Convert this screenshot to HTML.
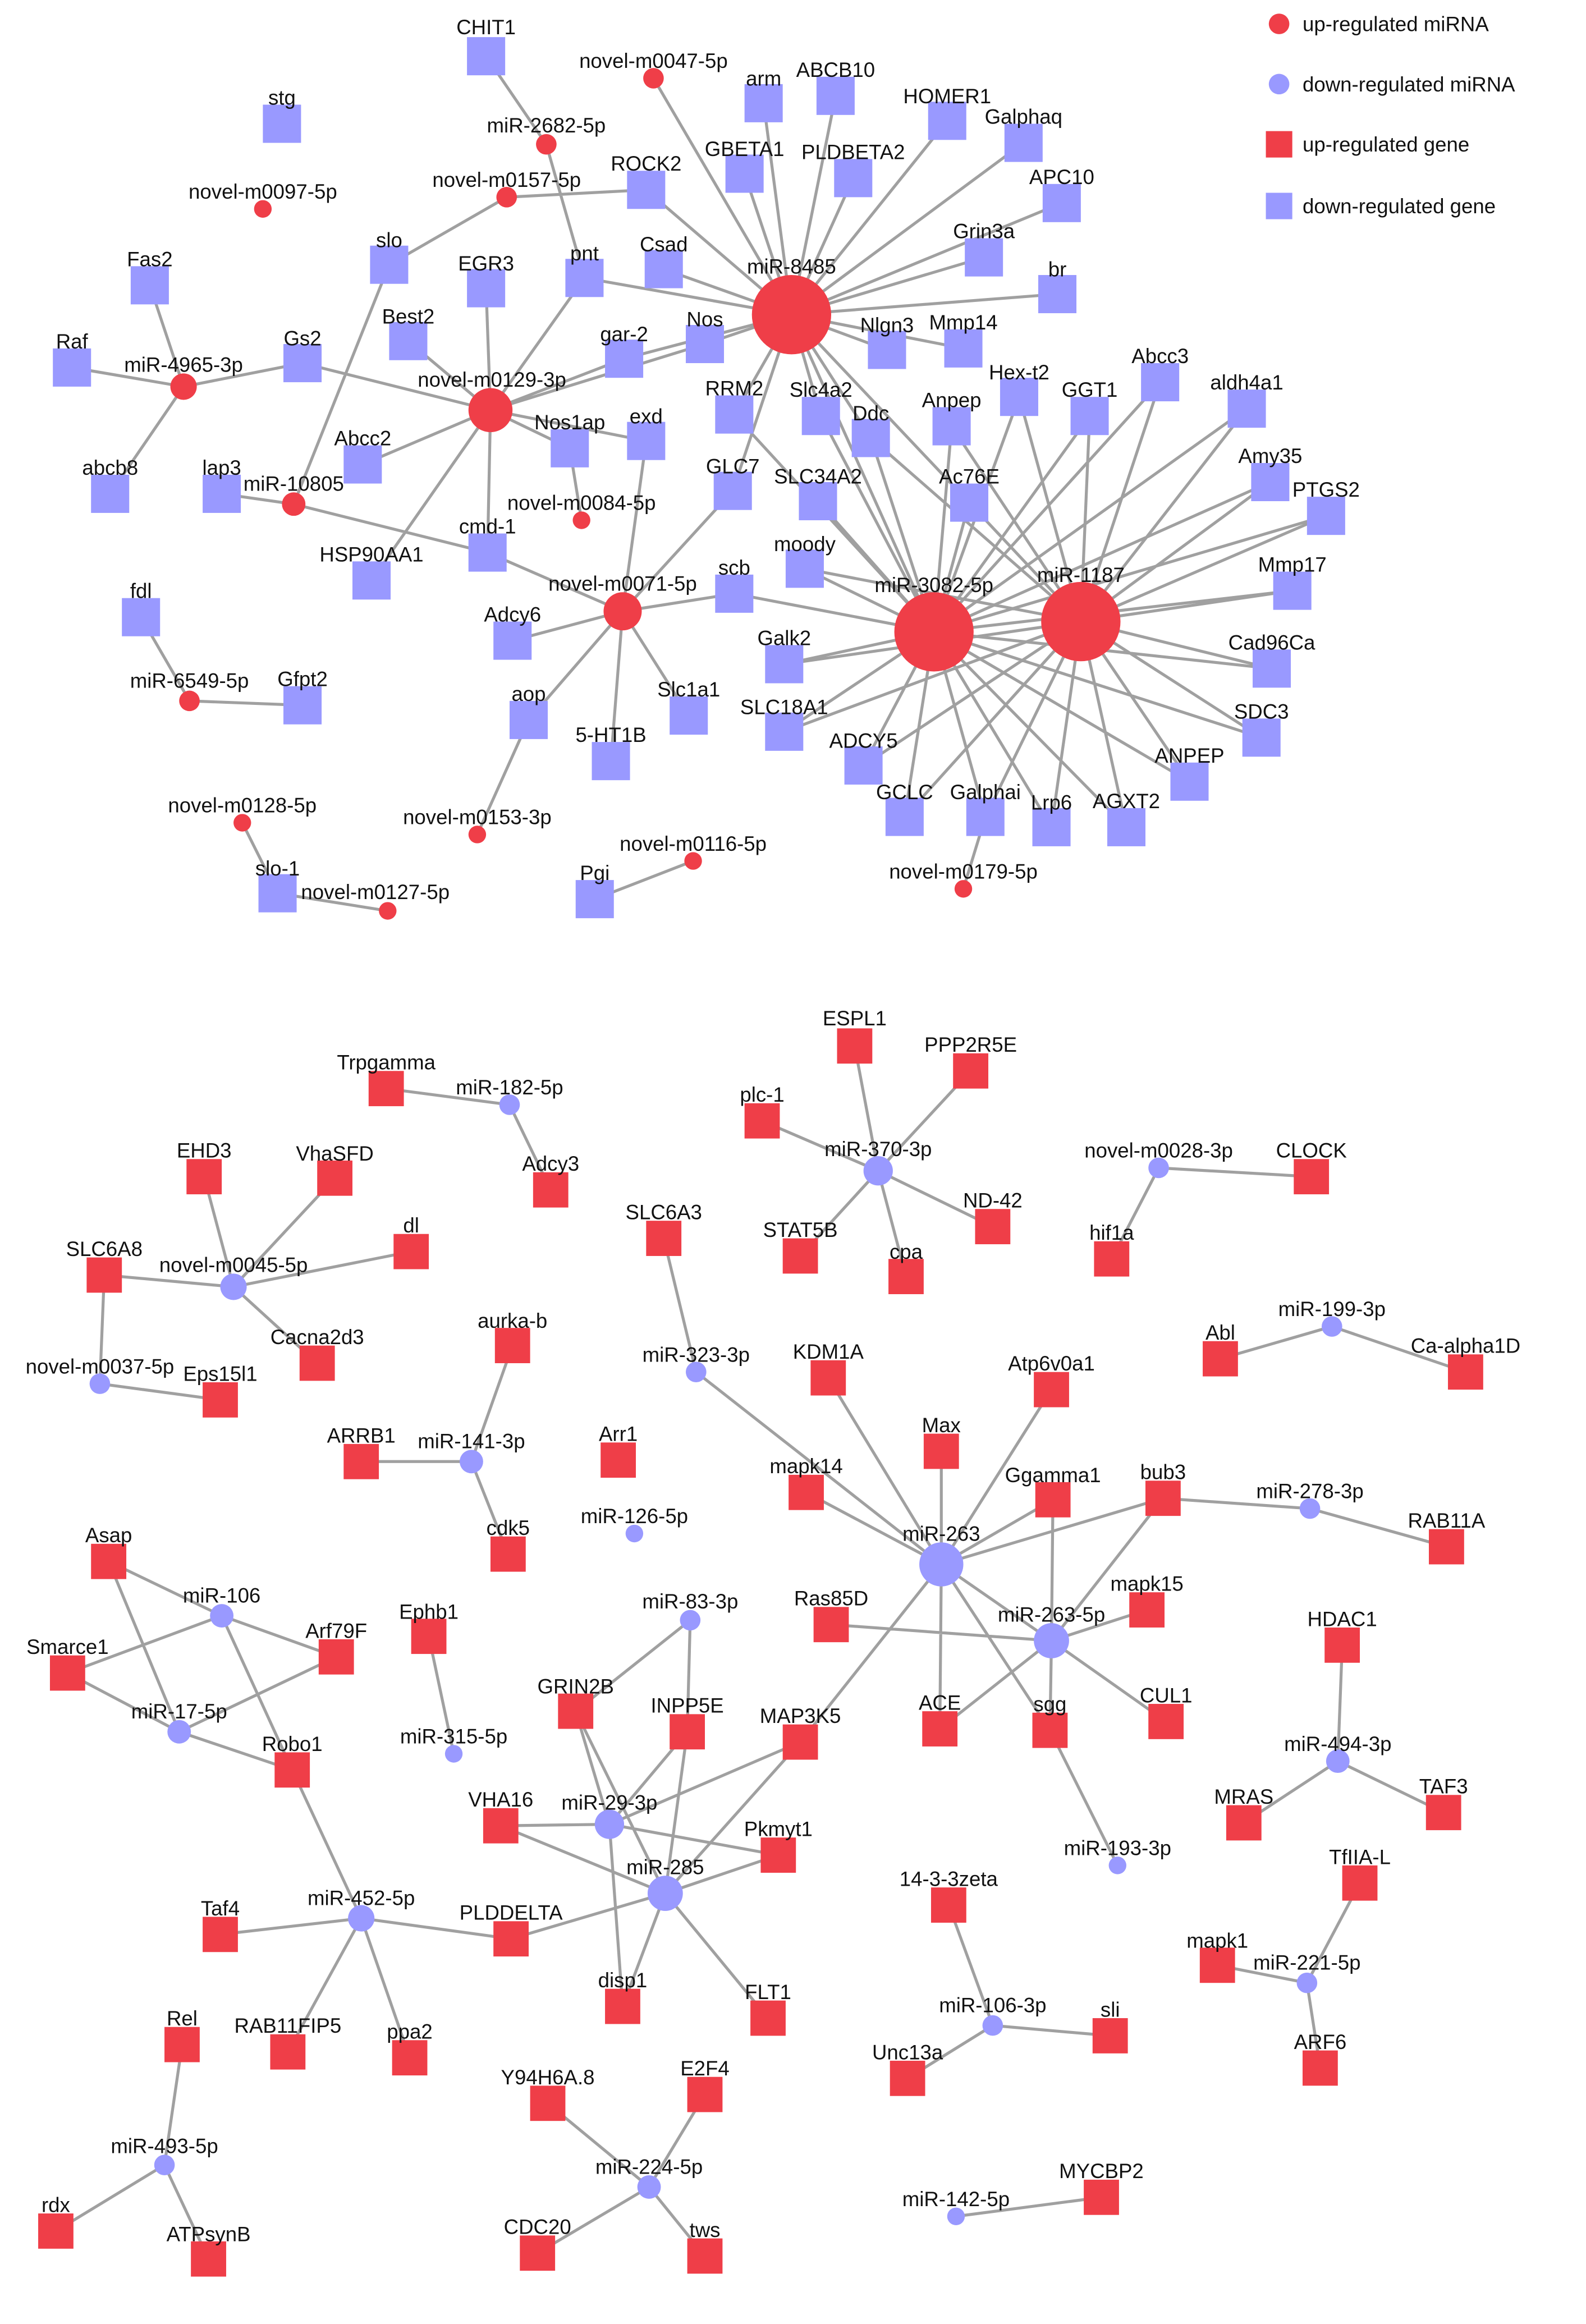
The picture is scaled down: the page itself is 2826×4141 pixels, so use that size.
<!DOCTYPE html>
<html><head><meta charset="utf-8"><style>
html,body{margin:0;padding:0;background:#fff}
svg{display:block}
text{font-family:"Liberation Sans",sans-serif;font-size:14px;fill:#111;text-anchor:middle}
.l{text-anchor:start}
</style></head><body>
<svg width="2826" height="4141" viewBox="0 0 1080 1582" xmlns="http://www.w3.org/2000/svg">
<rect width="1080" height="1582" fill="#fff"/>
<g stroke="#a0a0a0" stroke-width="2" fill="none">
<path d="M125,263L102,194M125,263L49,250M125,263L206,247M125,263L75,336
M200,343L151,336M200,343L265,180M200,343L332,376L424,416
M345,134L265,180M345,134L440,129
M372,98L331,38M372,98L398,189
M445,53L539,214
M129,477L96,420M129,477L206,480
M165,560L189,608L264,620
M325,568L360,490
M472,586L405,612
M656,605L671,556
M334,279L206,247M334,279L278,232M334,279L331,196M334,279L398,189M334,279L425,244M334,279L388,305M334,279L440,300M334,279L247,316M334,279L253,395M334,279L332,376M334,279L480,234
M388,305L396,354
M424,416L349,436M424,416L360,490M424,416L469,487M424,416L416,518M424,416L500,404M424,416L499,334M424,416L440,300
M539,214L520,70M539,214L569,65M539,214L645,82M539,214L697,97M539,214L507,118M539,214L581,121M539,214L440,129M539,214L723,138M539,214L670,175M539,214L720,200M539,214L452,183M539,214L398,189M539,214L480,234M539,214L604,238M539,214L656,237M539,214L500,282M539,214L559,283M539,214L593,298M539,214L499,334M539,214L425,244M539,214L636,430M539,214L660,342
M636,430L559,283M636,430L593,298M636,430L648,290M636,430L694,270M636,430L742,283M636,430L790,260M636,430L849,278M636,430L865,328M636,430L903,351M636,430L557,341M636,430L660,342M636,430L548,387M636,430L500,404M636,430L534,452M636,430L534,498M636,430L588,521M636,430L616,556M636,430L671,556M636,430L716,563M636,430L767,563M636,430L810,532M636,430L859,502M636,430L866,455M636,430L880,402M636,430L500,282
M736,423L694,270M736,423L742,283M736,423L790,260M736,423L849,278M736,423L865,328M736,423L903,351M736,423L880,402M736,423L866,455M736,423L859,502M736,423L810,532M736,423L767,563M736,423L716,563M736,423L671,556M736,423L616,556M736,423L588,521M736,423L534,498M736,423L534,452M736,423L548,387M736,423L660,342M736,423L648,290M736,423L593,298
M347,752L263,741M347,752L375,810
M159,876L139,801M159,876L228,802M159,876L280,852M159,876L71,868M159,876L216,928
M71,868L68,942L150,953
M598,797L582,712M598,797L661,729M598,797L519,763M598,797L676,835M598,797L545,855M598,797L617,869
M789,795L893,801M789,795L757,857
M907,903L831,925M907,903L998,934
M474,934L452,843M474,934L641,1065
M321,995L349,916M321,995L246,995M321,995L346,1058
M641,1065L564,938M641,1065L716,946M641,1065L641,988M641,1065L549,1016M641,1065L717,1021M641,1065L792,1020M641,1065L545,1186M641,1065L640,1177M641,1065L715,1178M641,1065L716,1117
M716,1117L566,1106M716,1117L781,1096M716,1117L792,1020M716,1117L717,1021M716,1117L715,1178M716,1117L794,1172M716,1117L640,1177
M715,1178L761,1270
M792,1020L892,1027L985,1053
M151,1100L74,1063M151,1100L229,1128M151,1100L46,1139M151,1100L199,1205
M122,1179L46,1139M122,1179L74,1063M122,1179L229,1128M122,1179L199,1205
M199,1205L246,1306
M246,1306L150,1317M246,1306L348,1320M246,1306L279,1401M246,1306L196,1397
M348,1320L453,1289
M309,1194L292,1114
M470,1103L392,1165M470,1103L468,1179
M415,1242L341,1243M415,1242L392,1165M415,1242L545,1186M415,1242L530,1263M415,1242L424,1366M415,1242L468,1179
M453,1289L392,1165M453,1289L468,1179M453,1289L545,1186M453,1289L530,1263M453,1289L523,1374M453,1289L424,1366M453,1289L341,1243
M911,1199L914,1120M911,1199L847,1241M911,1199L983,1234
M890,1350L926,1282M890,1350L829,1338M890,1350L899,1408
M676,1379L646,1297M676,1379L756,1386M676,1379L618,1415
M112,1474L124,1392M112,1474L38,1519M112,1474L142,1538
M442,1489L373,1432M442,1489L480,1426M442,1489L366,1534M442,1489L480,1536
M651,1509L750,1496"/>
</g>
<g fill="#9999ff">
<rect x="318" y="25" width="26" height="26"/><rect x="179" y="71" width="26" height="26"/><rect x="507" y="57" width="26" height="26"/><rect x="556" y="52" width="26" height="26"/><rect x="632" y="69" width="26" height="26"/><rect x="684" y="84" width="26" height="26"/><rect x="494" y="105" width="26" height="26"/><rect x="568" y="108" width="26" height="26"/><rect x="427" y="116" width="26" height="26"/><rect x="710" y="125" width="26" height="26"/><rect x="657" y="162" width="26" height="26"/><rect x="707" y="187" width="26" height="26"/><rect x="439" y="170" width="26" height="26"/><rect x="385" y="176" width="26" height="26"/><rect x="318" y="183" width="26" height="26"/><rect x="252" y="167" width="26" height="26"/><rect x="89" y="181" width="26" height="26"/><rect x="265" y="219" width="26" height="26"/><rect x="193" y="234" width="26" height="26"/><rect x="36" y="237" width="26" height="26"/><rect x="412" y="231" width="26" height="26"/><rect x="467" y="221" width="26" height="26"/><rect x="591" y="225" width="26" height="26"/><rect x="643" y="224" width="26" height="26"/><rect x="487" y="269" width="26" height="26"/><rect x="546" y="270" width="26" height="26"/><rect x="580" y="285" width="26" height="26"/><rect x="635" y="277" width="26" height="26"/><rect x="681" y="257" width="26" height="26"/><rect x="729" y="270" width="26" height="26"/><rect x="777" y="247" width="26" height="26"/><rect x="836" y="265" width="26" height="26"/><rect x="375" y="292" width="26" height="26"/><rect x="427" y="287" width="26" height="26"/><rect x="234" y="303" width="26" height="26"/><rect x="62" y="323" width="26" height="26"/><rect x="138" y="323" width="26" height="26"/><rect x="486" y="321" width="26" height="26"/><rect x="544" y="328" width="26" height="26"/><rect x="647" y="329" width="26" height="26"/><rect x="852" y="315" width="26" height="26"/><rect x="890" y="338" width="26" height="26"/><rect x="319" y="363" width="26" height="26"/><rect x="240" y="382" width="26" height="26"/><rect x="535" y="374" width="26" height="26"/><rect x="487" y="391" width="26" height="26"/><rect x="867" y="389" width="26" height="26"/><rect x="83" y="407" width="26" height="26"/><rect x="336" y="423" width="26" height="26"/><rect x="521" y="439" width="26" height="26"/><rect x="853" y="442" width="26" height="26"/><rect x="193" y="467" width="26" height="26"/><rect x="347" y="477" width="26" height="26"/><rect x="456" y="474" width="26" height="26"/><rect x="521" y="485" width="26" height="26"/><rect x="846" y="489" width="26" height="26"/><rect x="403" y="505" width="26" height="26"/><rect x="575" y="508" width="26" height="26"/><rect x="797" y="519" width="26" height="26"/><rect x="603" y="543" width="26" height="26"/><rect x="658" y="543" width="26" height="26"/><rect x="703" y="550" width="26" height="26"/><rect x="754" y="550" width="26" height="26"/><rect x="176" y="595" width="26" height="26"/><rect x="392" y="599" width="26" height="26"/>
<rect x="862" y="131" width="18" height="18"/>
<circle cx="871" cy="57" r="7"/>
<circle cx="347" cy="752" r="7"/><circle cx="159" cy="876" r="9"/><circle cx="68" cy="942" r="7"/><circle cx="598" cy="797" r="10"/><circle cx="789" cy="795" r="7"/><circle cx="907" cy="903" r="7"/><circle cx="474" cy="934" r="7"/><circle cx="321" cy="995" r="8"/><circle cx="432" cy="1044" r="6"/><circle cx="641" cy="1065" r="15"/><circle cx="892" cy="1027" r="7"/><circle cx="151" cy="1100" r="8"/><circle cx="122" cy="1179" r="8"/><circle cx="470" cy="1103" r="7"/><circle cx="716" cy="1117" r="12"/><circle cx="309" cy="1194" r="6"/><circle cx="911" cy="1199" r="8"/><circle cx="415" cy="1242" r="10"/><circle cx="453" cy="1289" r="12"/><circle cx="761" cy="1270" r="6"/><circle cx="246" cy="1306" r="9"/><circle cx="890" cy="1350" r="7"/><circle cx="676" cy="1379" r="7"/><circle cx="112" cy="1474" r="7"/><circle cx="442" cy="1489" r="8"/><circle cx="651" cy="1509" r="6"/>
</g>
<g fill="#ef3e48">
<circle cx="539" cy="214" r="27"/><circle cx="636" cy="430" r="27"/><circle cx="736" cy="423" r="27"/><circle cx="334" cy="279" r="15"/><circle cx="424" cy="416" r="13"/><circle cx="125" cy="263" r="9"/><circle cx="200" cy="343" r="8"/><circle cx="129" cy="477" r="7"/><circle cx="445" cy="53" r="7"/><circle cx="372" cy="98" r="7"/><circle cx="345" cy="134" r="7"/><circle cx="179" cy="142" r="6"/><circle cx="396" cy="354" r="6"/><circle cx="325" cy="568" r="6"/><circle cx="472" cy="586" r="6"/><circle cx="165" cy="560" r="6"/><circle cx="264" cy="620" r="6"/><circle cx="656" cy="605" r="6"/>
<circle cx="871" cy="16" r="7"/>
<rect x="862" y="89" width="18" height="18"/>
<rect x="570" y="700" width="24" height="24"/><rect x="649" y="717" width="24" height="24"/><rect x="507" y="751" width="24" height="24"/><rect x="251" y="729" width="24" height="24"/><rect x="363" y="798" width="24" height="24"/><rect x="127" y="789" width="24" height="24"/><rect x="216" y="790" width="24" height="24"/><rect x="268" y="840" width="24" height="24"/><rect x="59" y="856" width="24" height="24"/><rect x="204" y="916" width="24" height="24"/><rect x="138" y="941" width="24" height="24"/><rect x="664" y="823" width="24" height="24"/><rect x="533" y="843" width="24" height="24"/><rect x="605" y="857" width="24" height="24"/><rect x="745" y="845" width="24" height="24"/><rect x="881" y="789" width="24" height="24"/><rect x="440" y="831" width="24" height="24"/><rect x="337" y="904" width="24" height="24"/><rect x="552" y="926" width="24" height="24"/><rect x="704" y="934" width="24" height="24"/><rect x="819" y="913" width="24" height="24"/><rect x="986" y="922" width="24" height="24"/><rect x="234" y="983" width="24" height="24"/><rect x="409" y="982" width="24" height="24"/><rect x="334" y="1046" width="24" height="24"/><rect x="629" y="976" width="24" height="24"/><rect x="537" y="1004" width="24" height="24"/><rect x="705" y="1009" width="24" height="24"/><rect x="780" y="1008" width="24" height="24"/><rect x="973" y="1041" width="24" height="24"/><rect x="62" y="1051" width="24" height="24"/><rect x="217" y="1116" width="24" height="24"/><rect x="34" y="1127" width="24" height="24"/><rect x="280" y="1102" width="24" height="24"/><rect x="554" y="1094" width="24" height="24"/><rect x="769" y="1084" width="24" height="24"/><rect x="902" y="1108" width="24" height="24"/><rect x="187" y="1193" width="24" height="24"/><rect x="380" y="1153" width="24" height="24"/><rect x="456" y="1167" width="24" height="24"/><rect x="533" y="1174" width="24" height="24"/><rect x="628" y="1165" width="24" height="24"/><rect x="703" y="1166" width="24" height="24"/><rect x="782" y="1160" width="24" height="24"/><rect x="835" y="1229" width="24" height="24"/><rect x="971" y="1222" width="24" height="24"/><rect x="329" y="1231" width="24" height="24"/><rect x="518" y="1251" width="24" height="24"/><rect x="914" y="1270" width="24" height="24"/><rect x="634" y="1285" width="24" height="24"/><rect x="138" y="1305" width="24" height="24"/><rect x="336" y="1308" width="24" height="24"/><rect x="817" y="1326" width="24" height="24"/><rect x="412" y="1354" width="24" height="24"/><rect x="511" y="1362" width="24" height="24"/><rect x="267" y="1389" width="24" height="24"/><rect x="184" y="1385" width="24" height="24"/><rect x="112" y="1380" width="24" height="24"/><rect x="744" y="1374" width="24" height="24"/><rect x="606" y="1403" width="24" height="24"/><rect x="887" y="1396" width="24" height="24"/><rect x="361" y="1420" width="24" height="24"/><rect x="468" y="1414" width="24" height="24"/><rect x="738" y="1484" width="24" height="24"/><rect x="26" y="1507" width="24" height="24"/><rect x="130" y="1526" width="24" height="24"/><rect x="354" y="1522" width="24" height="24"/><rect x="468" y="1524" width="24" height="24"/>
</g>
<g>
<text class="l" x="887" y="21">up-regulated miRNA</text><text class="l" x="887" y="62">down-regulated miRNA</text><text class="l" x="887" y="103">up-regulated gene</text><text class="l" x="887" y="145">down-regulated gene</text>
<text x="331" y="23">CHIT1</text><text x="192" y="71">stg</text><text x="520" y="58">arm</text><text x="569" y="52">ABCB10</text><text x="645" y="70">HOMER1</text><text x="697" y="84">Galphaq</text><text x="507" y="106">GBETA1</text><text x="581" y="108">PLDBETA2</text><text x="440" y="116">ROCK2</text><text x="723" y="125">APC10</text><text x="670" y="162">Grin3a</text><text x="720" y="188">br</text><text x="452" y="171">Csad</text><text x="398" y="177">pnt</text><text x="331" y="184">EGR3</text><text x="265" y="168">slo</text><text x="102" y="181">Fas2</text><text x="278" y="220">Best2</text><text x="206" y="235">Gs2</text><text x="49" y="237">Raf</text><text x="425" y="232">gar-2</text><text x="480" y="222">Nos</text><text x="604" y="226">Nlgn3</text><text x="656" y="224">Mmp14</text><text x="500" y="269">RRM2</text><text x="559" y="270">Slc4a2</text><text x="593" y="286">Ddc</text><text x="648" y="277">Anpep</text><text x="694" y="258">Hex-t2</text><text x="742" y="270">GGT1</text><text x="790" y="247">Abcc3</text><text x="849" y="265">aldh4a1</text><text x="388" y="292">Nos1ap</text><text x="440" y="288">exd</text><text x="247" y="303">Abcc2</text><text x="75" y="323">abcb8</text><text x="151" y="323">lap3</text><text x="499" y="322">GLC7</text><text x="557" y="329">SLC34A2</text><text x="660" y="329">Ac76E</text><text x="865" y="315">Amy35</text><text x="903" y="338">PTGS2</text><text x="332" y="363">cmd-1</text><text x="253" y="382">HSP90AA1</text><text x="548" y="375">moody</text><text x="500" y="391">scb</text><text x="880" y="389">Mmp17</text><text x="96" y="407">fdl</text><text x="349" y="423">Adcy6</text><text x="534" y="439">Galk2</text><text x="866" y="442">Cad96Ca</text><text x="206" y="467">Gfpt2</text><text x="360" y="477">aop</text><text x="469" y="474">Slc1a1</text><text x="534" y="486">SLC18A1</text><text x="859" y="489">SDC3</text><text x="416" y="505">5-HT1B</text><text x="588" y="509">ADCY5</text><text x="810" y="519">ANPEP</text><text x="616" y="544">GCLC</text><text x="671" y="544">Galphai</text><text x="716" y="551">Lrp6</text><text x="767" y="550">AGXT2</text><text x="189" y="596">slo-1</text><text x="405" y="599">Pgi</text>
<text x="539" y="186">miR-8485</text><text x="636" y="403">miR-3082-5p</text><text x="736" y="396">miR-1187</text><text x="335" y="263">novel-m0129-3p</text><text x="424" y="402">novel-m0071-5p</text><text x="125" y="253">miR-4965-3p</text><text x="200" y="334">miR-10805</text><text x="129" y="468">miR-6549-5p</text><text x="445" y="46">novel-m0047-5p</text><text x="372" y="90">miR-2682-5p</text><text x="345" y="127">novel-m0157-5p</text><text x="179" y="135">novel-m0097-5p</text><text x="396" y="347">novel-m0084-5p</text><text x="325" y="561">novel-m0153-3p</text><text x="472" y="579">novel-m0116-5p</text><text x="165" y="553">novel-m0128-5p</text><text class="l" x="205" y="612">novel-m0127-5p</text><text x="656" y="598">novel-m0179-5p</text>
<text x="582" y="698">ESPL1</text><text x="661" y="716">PPP2R5E</text><text x="519" y="750">plc-1</text><text x="263" y="728">Trpgamma</text><text x="375" y="797">Adcy3</text><text x="139" y="788">EHD3</text><text x="228" y="790">VhaSFD</text><text x="280" y="839">dl</text><text x="71" y="855">SLC6A8</text><text x="216" y="915">Cacna2d3</text><text x="150" y="940">Eps15l1</text><text x="676" y="822">ND-42</text><text x="545" y="842">STAT5B</text><text x="617" y="857">cpa</text><text x="757" y="844">hif1a</text><text x="893" y="788">CLOCK</text><text x="452" y="830">SLC6A3</text><text x="349" y="904">aurka-b</text><text x="564" y="925">KDM1A</text><text x="716" y="933">Atp6v0a1</text><text x="831" y="912">Abl</text><text x="998" y="921">Ca-alpha1D</text><text x="246" y="982">ARRB1</text><text x="421" y="981">Arr1</text><text x="346" y="1045">cdk5</text><text x="641" y="975">Max</text><text x="549" y="1003">mapk14</text><text x="717" y="1009">Ggamma1</text><text x="792" y="1007">bub3</text><text x="985" y="1040">RAB11A</text><text x="74" y="1050">Asap</text><text x="229" y="1115">Arf79F</text><text x="46" y="1126">Smarce1</text><text x="292" y="1102">Ephb1</text><text x="566" y="1093">Ras85D</text><text x="781" y="1083">mapk15</text><text x="914" y="1107">HDAC1</text><text x="199" y="1192">Robo1</text><text x="392" y="1153">GRIN2B</text><text x="468" y="1166">INPP5E</text><text x="545" y="1173">MAP3K5</text><text x="640" y="1164">ACE</text><text x="715" y="1165">sgg</text><text x="794" y="1159">CUL1</text><text x="847" y="1228">MRAS</text><text x="983" y="1221">TAF3</text><text x="341" y="1230">VHA16</text><text x="530" y="1250">Pkmyt1</text><text x="926" y="1269">TfIIA-L</text><text x="646" y="1284">14-3-3zeta</text><text x="150" y="1304">Taf4</text><text x="348" y="1307">PLDDELTA</text><text x="829" y="1326">mapk1</text><text x="424" y="1353">disp1</text><text x="523" y="1361">FLT1</text><text x="279" y="1388">ppa2</text><text x="196" y="1384">RAB11FIP5</text><text x="124" y="1379">Rel</text><text x="756" y="1373">sli</text><text x="618" y="1402">Unc13a</text><text x="899" y="1395">ARF6</text><text x="373" y="1419">Y94H6A.8</text><text x="480" y="1413">E2F4</text><text x="750" y="1483">MYCBP2</text><text x="38" y="1506">rdx</text><text x="142" y="1526">ATPsynB</text><text x="366" y="1521">CDC20</text><text x="480" y="1523">tws</text>
<text x="347" y="745">miR-182-5p</text><text x="159" y="866">novel-m0045-5p</text><text x="68" y="935">novel-m0037-5p</text><text x="598" y="787">miR-370-3p</text><text x="789" y="788">novel-m0028-3p</text><text x="907" y="896">miR-199-3p</text><text x="474" y="927">miR-323-3p</text><text x="321" y="986">miR-141-3p</text><text x="432" y="1037">miR-126-5p</text><text x="641" y="1049">miR-263</text><text x="892" y="1020">miR-278-3p</text><text x="151" y="1091">miR-106</text><text x="122" y="1170">miR-17-5p</text><text x="470" y="1095">miR-83-3p</text><text x="716" y="1104">miR-263-5p</text><text x="309" y="1187">miR-315-5p</text><text x="911" y="1192">miR-494-3p</text><text x="415" y="1232">miR-29-3p</text><text x="453" y="1276">miR-285</text><text x="761" y="1263">miR-193-3p</text><text x="246" y="1297">miR-452-5p</text><text x="890" y="1341">miR-221-5p</text><text x="676" y="1370">miR-106-3p</text><text x="112" y="1466">miR-493-5p</text><text x="442" y="1480">miR-224-5p</text><text x="651" y="1502">miR-142-5p</text>
</g>
</svg>
</body></html>
